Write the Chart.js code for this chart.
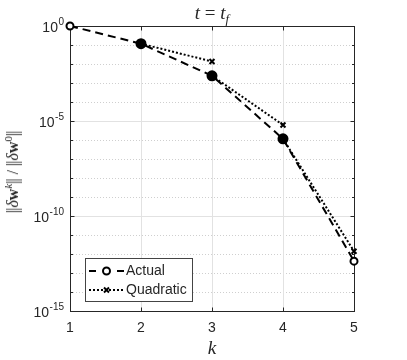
<!DOCTYPE html>
<html>
<head>
<meta charset="utf-8">
<script src="https://cdn.jsdelivr.net/npm/chart.js@4"></script>
<style>
  html, body { margin: 0; padding: 0; background: #fff; }
  #wrap { position: relative; width: 407px; height: 360px; }
  .lbl { position: absolute; font-family: "Liberation Serif", "DejaVu Serif", serif; color: #262626; white-space: nowrap; line-height: 1; }
  #title { left: 212px; top: 12px; font-size: 19px; transform: translate(-50%, -50%); }
  #xlab { left: 212px; top: 347px; font-size: 19px; transform: translate(-50%, -50%); }
  #ylab { left: 13px; top: 172px; font-size: 16px; transform: translate(-50%, -50%) rotate(-90deg); }
  .bar { letter-spacing: -1px; margin-right: 1px; font-weight: normal; }
  sub, sup { font-size: 68%; line-height: 0; }
</style>
</head>
<body>
<div id="wrap">
  <canvas id="convChart" width="407" height="360"></canvas>
  <div class="lbl" id="title"><i>t</i> = <i>t</i><sub><i>f</i></sub></div>
  <div class="lbl" id="xlab"><i>k</i></div>
  <div class="lbl" id="ylab"><span class="bar">||</span><i>δ</i><b>w</b><sup><i>k</i></sup><span class="bar">||</span> / <span class="bar">||</span><i>δ</i><b>w</b><sup>0</sup><span class="bar">||</span></div>
</div>
<script>
// Newton iteration error at t = t_f, actual vs quadratic prediction
const kValues = [1, 2, 3, 4, 5];
const actualError = [1, 0.117, 2.4e-3, 1.15e-6, 4.2e-13];
// each quadratic segment starts at the actual error of iterate k and predicts k+1
const quadStartK = [2, 3, 4];
const quadEndError = [1.35e-2, 6.2e-6, 1.4e-12];
const yTickExps = [0, -5, -10, -15];
const xTickLabels = ['1', '2', '3', '4', '5'];

const TEXT = '#262626';
const SANS = "'Liberation Sans', Arial, sans-serif";

const actualPoints = kValues.map((k, i) => ({ x: k, y: actualError[i] }));
const quadPoints = [];
quadStartK.forEach((k, i) => {
  quadPoints.push({ x: k, y: actualError[k - 1] });
  quadPoints.push({ x: k + 1, y: quadEndError[i] });
  quadPoints.push({ x: k + 1, y: null });
});

function crisp(v) { return Math.round(v) + 0.5; }

// grid, box, ticks and tick labels drawn from the chart's own scales
const axesDecor = {
  id: 'axesDecor',
  beforeDatasetsDraw(chart) {
    const { ctx, chartArea: a, scales: { x, y } } = chart;
    ctx.save();
    ctx.lineWidth = 1;
    // y decades
    for (let e = -1; e >= -14; e--) {
      const py = crisp(y.getPixelForValue(Math.pow(10, e)));
      ctx.beginPath();
      if (e % 5 === 0) {
        ctx.setLineDash([]);
        ctx.strokeStyle = '#e2e2e2';
      } else {
        ctx.setLineDash([1, 2]);
        ctx.strokeStyle = '#cfcfcf';
      }
      ctx.moveTo(a.left, py);
      ctx.lineTo(a.right, py);
      ctx.stroke();
    }
    ctx.setLineDash([]);
    ctx.strokeStyle = '#e2e2e2';
    for (let k = 2; k <= 4; k++) {
      const px = crisp(x.getPixelForValue(k));
      ctx.beginPath();
      ctx.moveTo(px, a.top);
      ctx.lineTo(px, a.bottom);
      ctx.stroke();
    }
    // box
    const l = crisp(a.left), r = crisp(a.right), t = crisp(a.top), b = crisp(a.bottom);
    ctx.strokeStyle = TEXT;
    ctx.strokeRect(l, t, r - l, b - t);
    // inward ticks
    ctx.beginPath();
    for (let e = 0; e >= -15; e--) {
      const py = crisp(y.getPixelForValue(Math.pow(10, e)));
      const len = e % 5 === 0 ? 4 : 2.5;
      ctx.moveTo(l, py); ctx.lineTo(l + len, py);
      ctx.moveTo(r, py); ctx.lineTo(r - len, py);
    }
    for (let k = 2; k <= 4; k++) {
      const px = crisp(x.getPixelForValue(k));
      ctx.moveTo(px, b); ctx.lineTo(px, b - 4);
      ctx.moveTo(px, t); ctx.lineTo(px, t + 4);
    }
    ctx.stroke();
    // tick labels
    ctx.fillStyle = TEXT;
    ctx.textBaseline = 'middle';
    ctx.textAlign = 'center';
    ctx.font = '14px ' + SANS;
    xTickLabels.forEach((lab, i) => {
      ctx.fillText(lab, x.getPixelForValue(kValues[i]), 328);
    });
    yTickExps.forEach(e => {
      const py = y.getPixelForValue(Math.pow(10, e));
      const sup = String(e);
      ctx.font = '10px ' + SANS;
      const supW = ctx.measureText(sup).width;
      ctx.textAlign = 'right';
      ctx.fillText(sup, 64, py - 4);
      ctx.font = '14px ' + SANS;
      ctx.fillText('10', 64 - supW - 0.5, py + 2);
    });
    ctx.restore();
  },
  afterDatasetsDraw(chart) {
    const { ctx } = chart;
    ctx.save();
    // legend box
    ctx.fillStyle = '#fff';
    ctx.strokeStyle = '#444';
    ctx.lineWidth = 1;
    ctx.fillRect(85.5, 258.5, 107, 43);
    ctx.strokeRect(85.5, 258.5, 107, 43);
    ctx.strokeStyle = '#000';
    ctx.lineWidth = 2;
    // Actual entry
    ctx.beginPath();
    ctx.moveTo(89, 271); ctx.lineTo(96, 271);
    ctx.moveTo(117, 271); ctx.lineTo(124, 271);
    ctx.stroke();
    ctx.beginPath();
    ctx.arc(106.5, 271, 3.5, 0, Math.PI * 2);
    ctx.fillStyle = '#fff';
    ctx.fill();
    ctx.stroke();
    // Quadratic entry
    ctx.setLineDash([2, 2]);
    ctx.beginPath();
    ctx.moveTo(89, 290); ctx.lineTo(124, 290);
    ctx.stroke();
    ctx.setLineDash([]);
    ctx.beginPath();
    ctx.moveTo(104, 287.5); ctx.lineTo(109, 292.5);
    ctx.moveTo(109, 287.5); ctx.lineTo(104, 292.5);
    ctx.stroke();
    ctx.fillStyle = TEXT;
    ctx.font = '14px ' + SANS;
    ctx.textAlign = 'left';
    ctx.textBaseline = 'middle';
    ctx.fillText('Actual', 126, 271);
    ctx.fillText('Quadratic', 126, 290);
    ctx.restore();
  }
};

const ctx = document.getElementById('convChart').getContext('2d');
new Chart(ctx, {
  type: 'line',
  data: {
    datasets: [{
      label: 'Actual',
      data: actualPoints,
      borderColor: '#000',
      borderWidth: 2,
      borderDash: [8, 5],
      pointStyle: 'circle',
      pointRadius: [3.5, 4.5, 4.5, 4.5, 3.5],
      pointBorderWidth: 2,
      pointBorderColor: '#000',
      pointBackgroundColor: ['#fff', '#000', '#000', '#000', '#fff'],
      fill: false,
      tension: 0,
      clip: false
    }, {
      label: 'Quadratic',
      data: quadPoints,
      borderColor: '#000',
      borderWidth: 2,
      borderDash: [2, 2],
      pointStyle: 'crossRot',
      pointRadius: quadPoints.map((p, i) => (i % 3 === 1 ? 3.5 : 0)),
      pointBorderWidth: 2,
      pointBorderColor: '#000',
      spanGaps: false,
      fill: false,
      tension: 0,
      clip: false
    }]
  },
  options: {
    responsive: false,
    animation: false,
    layout: { padding: { left: 70, right: 53, top: 26, bottom: 49 } },
    plugins: {
      legend: { display: false },
      title: { display: false },
      tooltip: { enabled: false }
    },
    scales: {
      x: { type: 'linear', min: 1, max: 5, display: false },
      y: { type: 'logarithmic', min: 1e-15, max: 1, display: false }
    }
  },
  plugins: [axesDecor]
});
</script>
</body>
</html>
